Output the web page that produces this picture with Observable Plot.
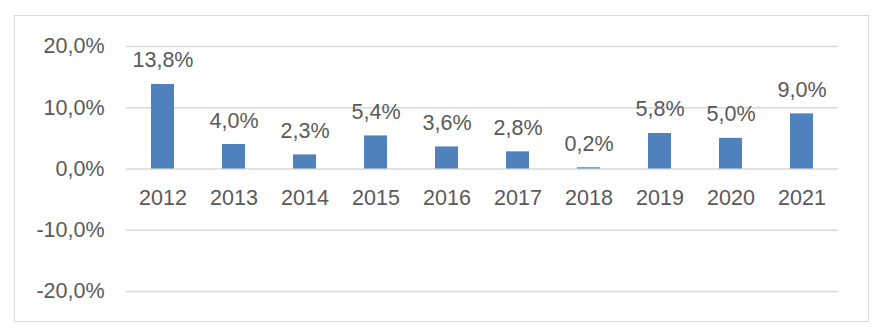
<!DOCTYPE html>
<html>
<head>
<meta charset="utf-8">
<script src="https://cdn.jsdelivr.net/npm/d3@7"></script>
<script src="https://cdn.jsdelivr.net/npm/@observablehq/plot@0.6"></script>
<style>
  html, body { margin: 0; padding: 0; background: #fff; }
  #wrap { position: relative; width: 880px; height: 335px; }
  #border { position: absolute; left: 14px; top: 15px; width: 853px; height: 305px; border: 1.5px solid #d9d9d9; box-sizing: content-box; }
  #chart { position: absolute; left: 0; top: 0; }
</style>
</head>
<body>
<div id="wrap"><div id="border"></div><div id="chart"></div></div>
<script>
const years = ["2012","2013","2014","2015","2016","2017","2018","2019","2020","2021"];
const growth = [13.8, 4.0, 2.3, 5.4, 3.6, 2.8, 0.2, 5.8, 5.0, 9.0];
const yTicks = [-20, -10, 0, 10, 20];

const data = years.map((y, i) => ({year: y, value: growth[i]}));
const fmt = v => v.toFixed(1).replace(".", ",") + "%";
const font = "'Liberation Sans', Arial, sans-serif";

const chart = Plot.plot({
  width: 880,
  height: 335,
  marginLeft: 126,
  marginRight: 42,
  marginTop: 46,
  marginBottom: 44,
  style: {fontFamily: font, fontSize: "21.5px", color: "#595959", background: "transparent"},
  x: {domain: years, paddingInner: 0.68, paddingOuter: 0.34, axis: null},
  y: {domain: [-20, 20], ticks: yTicks, tickFormat: fmt, label: null},
  marks: [
    Plot.gridY(yTicks, {stroke: "#d9d9d9", strokeOpacity: 1, strokeWidth: 1.5}),
    Plot.axisY(yTicks, {tickFormat: fmt, tickSize: 0, tickPadding: 22, fill: "#595959", fontSize: 21.5, label: null}),
    Plot.barY(data, {x: "year", y: "value", fill: "#4f81bd"}),
    Plot.text(data, {x: "year", y: "value", text: d => fmt(d.value), dy: -17, lineAnchor: "bottom", fill: "#595959", fontSize: 21.5}),
    Plot.text(data, {x: "year", y: () => 0, text: "year", dy: 36, lineAnchor: "bottom", fill: "#595959", fontSize: 21.5})
  ]
});
document.getElementById("chart").appendChild(chart);
</script>
</body>
</html>
